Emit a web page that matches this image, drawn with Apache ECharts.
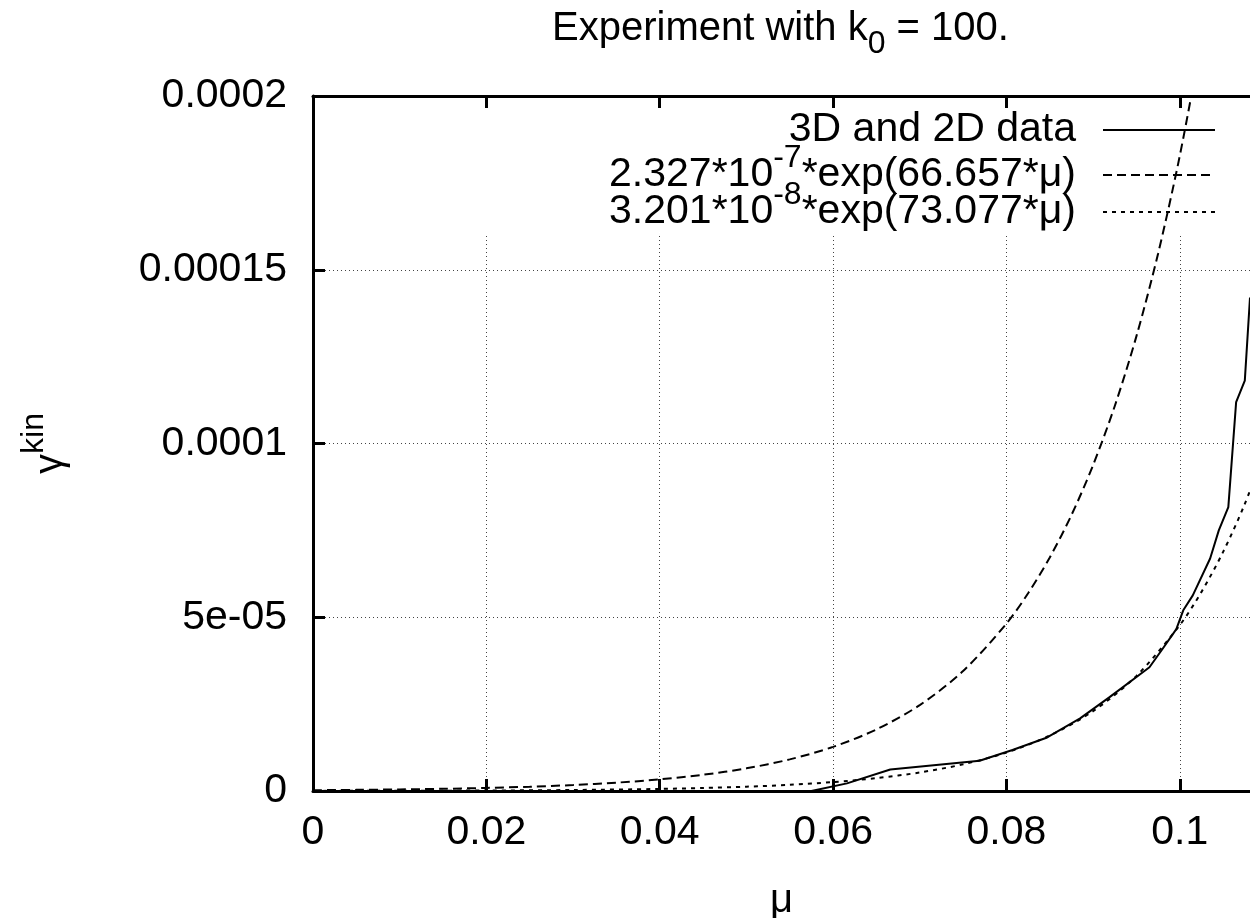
<!DOCTYPE html>
<html>
<head>
<meta charset="utf-8">
<script src="https://cdn.jsdelivr.net/npm/echarts@6.0.0/dist/echarts.min.js"></script>
<style>
html,body{margin:0;padding:0;background:#fff;}
#chart{width:1250px;height:918px;}
</style>
</head>
<body>
<div id="chart"></div>
<script>
// ---- data ----
const xTickValues = [0, 0.02, 0.04, 0.06, 0.08, 0.1];
const xTickLabels = ['0', '0.02', '0.04', '0.06', '0.08', '0.1'];
const yTickLabels = ['0', '5e-05', '0.0001', '0.00015', '0.0002'];

const dataMu = [0, 0.01, 0.02, 0.03, 0.04, 0.05, 0.0575, 0.0616, 0.0666, 0.0769, 0.0807, 0.0847, 0.0885, 0.0919, 0.0965, 0.0979, 0.0996, 0.1004, 0.1015, 0.1035, 0.1045, 0.1056, 0.1065, 0.1075, 0.1081];
const dataGamma = [0, 0, 0, 0, 0, 0, 0, 2.2e-6, 6.2e-6, 8.7e-6, 1.18e-5, 1.54e-5, 2.09e-5, 2.70e-5, 3.56e-5, 4.05e-5, 4.66e-5, 5.20e-5, 5.63e-5, 6.69e-5, 7.5e-5, 8.17e-5, 1.119e-4, 1.181e-4, 1.42e-4];

const fit1Mu = [0, 0.005, 0.01, 0.015, 0.02, 0.025, 0.03, 0.035, 0.04, 0.045, 0.05, 0.055, 0.06, 0.065, 0.07, 0.075, 0.08, 0.0825, 0.085, 0.0875, 0.09, 0.0925, 0.095, 0.0975, 0.1, 0.1025];
const fit1Gamma = [2.33e-7, 3.25e-7, 4.53e-7, 6.32e-7, 8.83e-7, 1.232e-6, 1.719e-6, 2.399e-6, 3.348e-6, 4.673e-6, 6.52e-6, 9.10e-6, 1.270e-5, 1.772e-5, 2.473e-5, 3.452e-5, 4.817e-5, 5.69e-5, 6.72e-5, 7.94e-5, 9.38e-5, 1.108e-4, 1.309e-4, 1.547e-4, 1.828e-4, 2.159e-4];

const fit2Mu = [0, 0.01, 0.02, 0.03, 0.04, 0.045, 0.05, 0.055, 0.06, 0.065, 0.07, 0.075, 0.08, 0.085, 0.09, 0.095, 0.1, 0.1025, 0.105, 0.1075, 0.11];
const fit2Gamma = [3.2e-8, 6.65e-8, 1.38e-7, 2.867e-7, 5.95e-7, 8.58e-7, 1.236e-6, 1.782e-6, 2.567e-6, 3.70e-6, 5.33e-6, 7.68e-6, 1.107e-5, 1.596e-5, 2.299e-5, 3.313e-5, 4.775e-5, 5.73e-5, 6.88e-5, 8.26e-5, 9.92e-5];

const seriesNames = ['3D and 2D data', '2.327*10^-7*exp(66.657*μ)', '3.201*10^-8*exp(73.077*μ)'];
const legendRich = [
  '{t|3D and 2D data}{g| }',
  '{t|2.327*10}{s|-7}{t|*exp(66.657*μ)}{g| }',
  '{t|3.201*10}{s|-8}{t|*exp(73.077*μ)}{g| }'
];

const zip = (a, b) => a.map((v, i) => [v, b[i]]);
const FONT = 'Liberation Sans';

const rich = {
  t: {fontFamily: FONT, fontSize: 41, fontWeight: 'normal', lineHeight: 40, color: '#000', verticalAlign: 'bottom'},
  s: {fontFamily: FONT, fontSize: 32, fontWeight: 'normal', lineHeight: 40, padding: [0, 0, 21, 0], color: '#000', verticalAlign: 'bottom'},
  g: {fontFamily: FONT, fontSize: 41, lineHeight: 40, width: 22, verticalAlign: 'bottom'}
};

function mkLegend(i, top) {
  return {
    data: [seriesNames[i]],
    orient: 'vertical',
    right: 34,
    top: top,
    padding: 0,
    itemWidth: 112,
    itemHeight: 40,
    align: 'right',
    selectedMode: false,
    itemStyle: {opacity: 0},
    formatter: () => legendRich[i],
    textStyle: {color: '#000', fontFamily: FONT, fontSize: 41, fontWeight: 'normal', rich: rich}
  };
}

const xLabelFmt = (v) => {
  const i = xTickValues.findIndex(t => Math.abs(t - v) < 1e-9);
  return i >= 0 ? xTickLabels[i] : '';
};

const axisLineStyle = {color: '#000', width: 3};
const gridLineStyle = {color: '#444', width: 1, type: [1, 3]};

const option = {
  animation: false,
  backgroundColor: '#fff',
  title: {
    text: '{a|Experiment with k}{b|0}{a| = 100.}',
    left: 552,
    top: 9,
    padding: 0,
    textStyle: {
      fontWeight: 'normal',
      rich: {
        a: {fontFamily: FONT, fontSize: 40, fontWeight: 'normal', lineHeight: 40, color: '#000', verticalAlign: 'top'},
        b: {fontFamily: FONT, fontSize: 32, fontWeight: 'normal', lineHeight: 40, padding: [19, 0, 0, 0], color: '#000', verticalAlign: 'top'}
      }
    }
  },
  legend: [mkLegend(0, 109), mkLegend(1, 142), mkLegend(2, 179)],
  grid: {left: 313, right: 0, top: 96, bottom: 127, containLabel: false, outerBoundsMode: 'none'},
  graphic: [{
    type: 'rect', z: 1, silent: true,
    shape: {x: 316, y: 99.5, width: 934, height: 133.5},
    style: {fill: '#fff'}
  }],
  xAxis: [{
    type: 'value', min: 0, max: 0.1081, interval: 0.02,
    position: 'bottom',
    name: 'μ', nameLocation: 'middle', nameGap: 90,
    nameTextStyle: {fontFamily: FONT, fontSize: 40, lineHeight: 40, color: '#000'},
    axisLine: {show: true, onZero: false, lineStyle: axisLineStyle},
    axisTick: {show: true, inside: true, length: 12, lineStyle: axisLineStyle, customValues: xTickValues},
    axisLabel: {margin: 21, fontFamily: FONT, fontSize: 41, color: '#000', formatter: xLabelFmt, customValues: xTickValues},
    splitLine: {show: true, lineStyle: gridLineStyle}
  }, {
    type: 'value', min: 0, max: 0.1081, interval: 0.02,
    position: 'top', z: 3,
    axisLine: {show: true, onZero: false, lineStyle: axisLineStyle},
    axisTick: {show: true, inside: true, length: 12, lineStyle: axisLineStyle, customValues: xTickValues},
    axisLabel: {show: false},
    splitLine: {show: false}
  }],
  yAxis: {
    type: 'value', min: 0, max: 0.0002, interval: 0.00005,
    name: '{g|γ}{k|kin}', nameLocation: 'middle', nameGap: 242, nameRotate: 90,
    nameTextStyle: {
      rich: {
        g: {fontFamily: FONT, fontSize: 40, lineHeight: 40, color: '#000', verticalAlign: 'bottom'},
        k: {fontFamily: FONT, fontSize: 32, lineHeight: 40, padding: [0, 0, 21, 0], color: '#000', verticalAlign: 'bottom'}
      }
    },
    axisLine: {show: true, onZero: false, lineStyle: axisLineStyle},
    axisTick: {show: true, inside: true, length: 12, lineStyle: axisLineStyle},
    axisLabel: {
      margin: 26, fontFamily: FONT, fontSize: 41, color: '#000',
      formatter: (v) => yTickLabels[Math.round(v / 0.00005)] ?? ''
    },
    splitLine: {show: true, lineStyle: gridLineStyle, showMinLine: false, showMaxLine: false}
  },
  series: [{
    name: seriesNames[0], type: 'line', xAxisIndex: 0,
    data: zip(dataMu, dataGamma),
    symbol: 'none', showSymbol: false, z: 4,
    lineStyle: {color: '#000', width: 2, type: 'solid'},
    itemStyle: {color: '#000'}
  }, {
    name: seriesNames[1], type: 'line', xAxisIndex: 0,
    data: zip(fit1Mu, fit1Gamma),
    symbol: 'none', showSymbol: false, smooth: 0.3, z: 3,
    lineStyle: {color: '#000', width: 2, type: [9, 5]},
    itemStyle: {color: '#000'}
  }, {
    name: seriesNames[2], type: 'line', xAxisIndex: 0,
    data: zip(fit2Mu, fit2Gamma),
    symbol: 'none', showSymbol: false, smooth: 0.3, z: 3,
    lineStyle: {color: '#000', width: 2, type: [4, 5]},
    itemStyle: {color: '#000'}
  }]
};

const chart = echarts.init(document.getElementById('chart'), null, {renderer: 'canvas'});
chart.setOption(option);
</script>
</body>
</html>
